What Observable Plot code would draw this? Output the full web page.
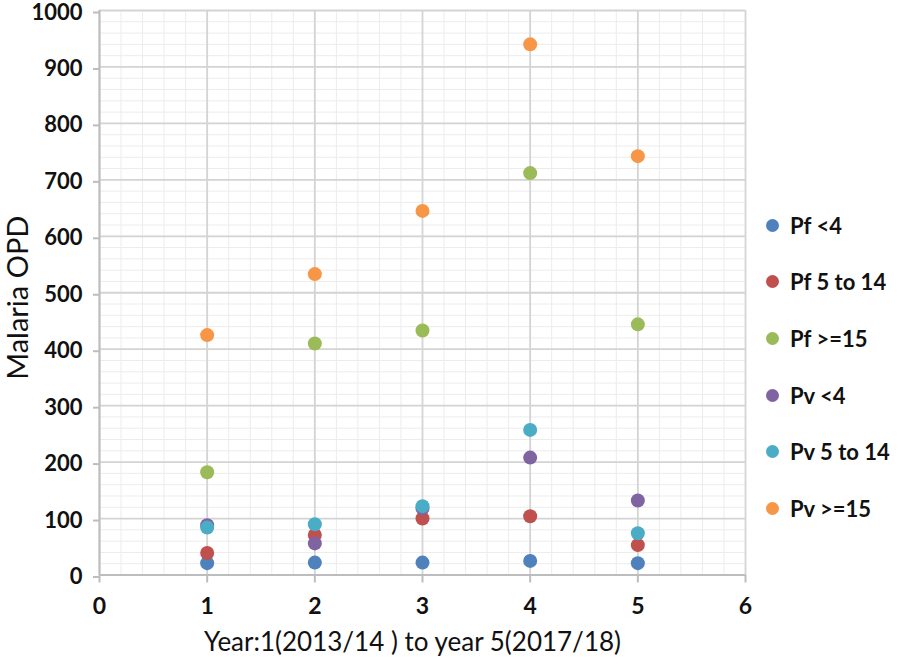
<!DOCTYPE html>
<html>
<head>
<meta charset="utf-8">
<script src="https://cdn.jsdelivr.net/npm/d3@7"></script>
<script src="https://cdn.jsdelivr.net/npm/@observablehq/plot@0.6"></script>
<style>
  body { margin: 0; background: #fff; }
  #wrap { position: relative; width: 898px; height: 664px; font-family: Lato, sans-serif; }
  #legend { position: absolute; left: 766px; top: 197px; }
  .row { display: flex; align-items: center; height: 56.6px; font-size: 22px; font-weight: bold; color: #111; }
  .sw { width: 13px; height: 13px; border-radius: 50%; margin-right: 11px; }
</style>
</head>
<body>
<div id="wrap"><div id="legend"></div></div>
<script>
// Categories and series
const years = [1, 2, 3, 4, 5];
const series = ["Pf <4", "Pf 5 to 14", "Pf >=15", "Pv <4", "Pv 5 to 14", "Pv >=15"];
const pfUnder4 = [21, 22, 22, 25, 21];
const pf5to14 = [39, 71, 100, 104, 53];
const pf15plus = [182, 410, 433, 712, 444];
const pvUnder4 = [88, 56, 118, 208, 132];
const pv5to14 = [84, 90, 122, 257, 74];
const pv15plus = [425, 533, 645, 940, 742];
const xTicks = [0, 1, 2, 3, 4, 5, 6];
const yTicks = [0, 100, 200, 300, 400, 500, 600, 700, 800, 900, 1000];
const xTitle = "Year:1(2013/14 ) to year 5(2017/18)";
const yTitle = "Malaria OPD";

const colors = ["#4F81BD", "#C0504D", "#9BBB59", "#8064A2", "#4BACC6", "#F79646"];
const valueSets = [pfUnder4, pf5to14, pf15plus, pvUnder4, pv5to14, pv15plus];
const rows = series.flatMap((s, i) => years.map((yr, j) => ({series: s, year: yr, value: valueSets[i][j]})));

const minorY = d3.range(0, 1001, 20);
const minorX = d3.range(0, 6.001, 0.2);

const chart = Plot.plot({
  width: 898,
  height: 664,
  marginLeft: 99,
  marginRight: 153,
  marginTop: 10,
  marginBottom: 89.5,
  style: {fontFamily: "Lato, sans-serif", background: "transparent"},
  x: {domain: [0, 6], axis: null},
  y: {domain: [0, 1000], axis: null},
  color: {domain: series, range: colors},
  marks: [
    Plot.gridY(minorY, {stroke: "#ececec", strokeOpacity: 1, strokeWidth: 1}),
    Plot.gridX(minorX, {stroke: "#ececec", strokeOpacity: 1, strokeWidth: 1}),
    Plot.gridY(yTicks, {stroke: "#d4d4d4", strokeOpacity: 1, strokeWidth: 1.8}),
    Plot.gridX(xTicks, {stroke: "#d4d4d4", strokeOpacity: 1, strokeWidth: 1.8}),
    Plot.ruleX([0], {stroke: "#bdbdbd", strokeWidth: 2}),
    Plot.ruleY([0], {stroke: "#bdbdbd", strokeWidth: 2}),
    Plot.axisY(yTicks, {tickSize: 6, tickPadding: 11, fontSize: 22, fontWeight: "bold", stroke: "#bdbdbd", strokeWidth: 2, fill: "#111", label: null, tickFormat: d => String(d), dy: 2}),
    Plot.axisX(xTicks, {tickSize: 8, tickPadding: 15, fontSize: 23, fontWeight: "bold", stroke: "#bdbdbd", strokeWidth: 2, fill: "#111", label: null, tickFormat: d => String(d)}),
    Plot.dot(rows, {x: "year", y: "value", fill: "series", r: 7, stroke: "none"}),
    Plot.text([xTitle], {frameAnchor: "bottom", dy: 68, dx: -10, fontSize: 26, fill: "#111", lineAnchor: "middle", textAnchor: "middle"}),
    Plot.text([yTitle], {frameAnchor: "left", rotate: -90, dx: -81, dy: 5, fontSize: 29, fill: "#111", lineAnchor: "middle", textAnchor: "middle"})
  ]
});
document.getElementById("wrap").prepend(chart);

const legend = document.getElementById("legend");
series.forEach((s, i) => {
  const row = document.createElement("div");
  row.className = "row";
  const sw = document.createElement("span");
  sw.className = "sw";
  sw.style.background = colors[i];
  row.appendChild(sw);
  row.appendChild(document.createTextNode(s));
  legend.appendChild(row);
});
</script>
</body>
</html>
